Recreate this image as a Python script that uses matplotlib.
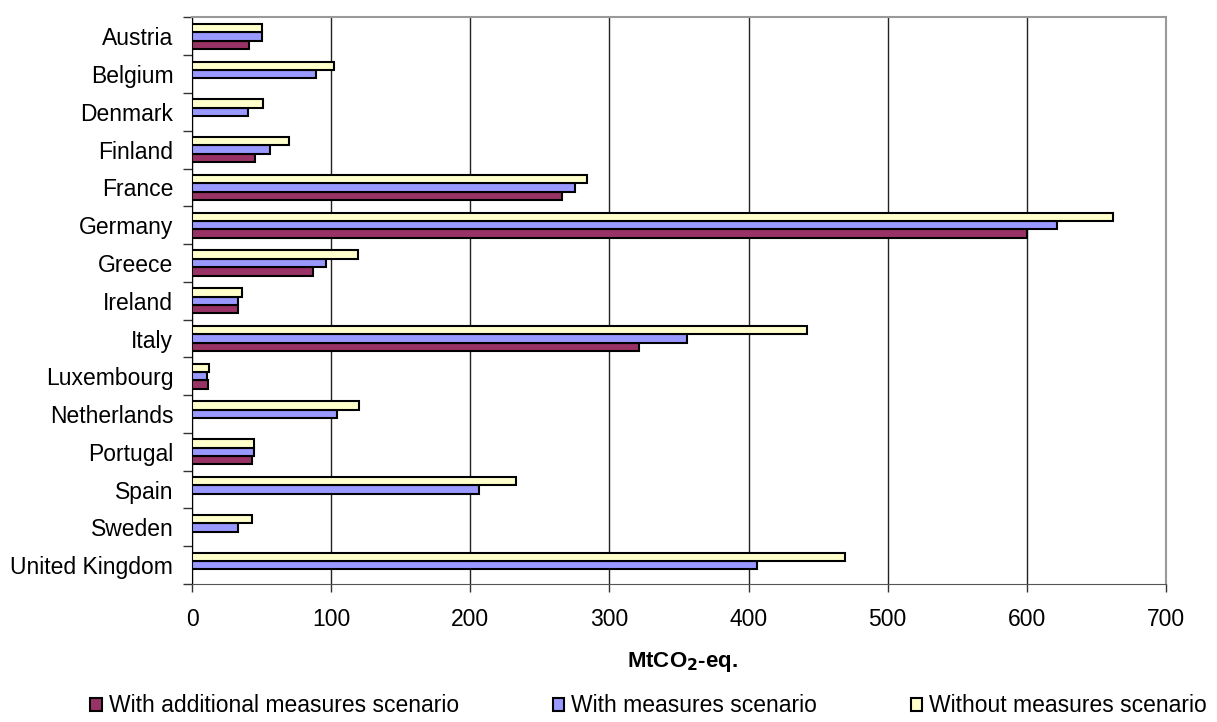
import numpy as np
import matplotlib.pyplot as plt
from matplotlib.ticker import FixedLocator, NullFormatter

plt.rcParams['font.family'] = ['Liberation Sans', 'DejaVu Sans']
plt.rcParams['font.size'] = 16.5

countries = ['Austria', 'Belgium', 'Denmark', 'Finland', 'France', 'Germany',
             'Greece', 'Ireland', 'Italy', 'Luxembourg', 'Netherlands',
             'Portugal', 'Spain', 'Sweden', 'United Kingdom']

nan = np.nan
with_additional = [41, nan, nan, 45, 266, 600, 87, 33, 321, 11.5, nan, 43, nan, nan, nan]
with_measures = [50, 89, 40, 56, 275, 622, 96, 33, 356, 11, 104, 44.5, 206, 33, 406]
without_measures = [50, 102, 51, 70, 284, 662, 119, 36, 442, 12.5, 120, 44.5, 233, 43, 469]

series = [
    ('With additional measures scenario', with_additional, '#993366'),
    ('With measures scenario', with_measures, '#9999FF'),
    ('Without measures scenario', without_measures, '#FFFFCC'),
]

fig = plt.figure(figsize=(12.17, 7.22), dpi=100)
ax = fig.add_axes([0.1578, 0.1911, 0.958 - 0.1578, 0.9758 - 0.1911])

y = np.arange(len(countries))
h = 1 / 4.5
offsets = [h, 0, -h]
for (name, vals, col), off in zip(series, offsets):
    ax.barh(y + off, np.array(vals, dtype=float), height=h, color=col,
            edgecolor='black', linewidth=1.5, label=name, zorder=3)

ax.set_xlim(0, 700)
ax.set_ylim(len(countries) - 0.5, -0.5)
ax.set_xticks(np.arange(0, 701, 100))
ax.grid(axis='x', color='#222222', linewidth=1.0, zorder=0)

# category labels centred, tick marks on the boundaries
ax.yaxis.set_major_locator(FixedLocator(np.arange(-0.5, len(countries), 1)))
ax.yaxis.set_major_formatter(NullFormatter())
ax.yaxis.set_minor_locator(FixedLocator(y))
ax.set_yticklabels(countries, minor=True)
ax.tick_params(axis='y', which='major', direction='out', length=6.5, width=1, color='#333333')
ax.tick_params(axis='y', which='minor', length=0, pad=13.5)
ax.tick_params(axis='x', direction='out', length=6, width=1, color='#333333', pad=11)

ax.spines['left'].set_color('black')
ax.spines['bottom'].set_color('#555555')
for s in ('top', 'right'):
    ax.spines[s].set_color('#999999')
    ax.spines[s].set_linewidth(1.5)

fig.text(0.561, 1 - 662 / 722, r'MtCO$_\mathbf{2}$-eq.', ha='center', va='center',
         fontweight='bold', fontsize=16)

fig.legend(loc='center', bbox_to_anchor=(0.533, 1 - 706 / 722), ncol=3, frameon=False,
           handlelength=0.5, handleheight=0.5, handletextpad=0.3, columnspacing=4.1,
           borderaxespad=0, borderpad=0)

fig.savefig('out.png', dpi=100)
